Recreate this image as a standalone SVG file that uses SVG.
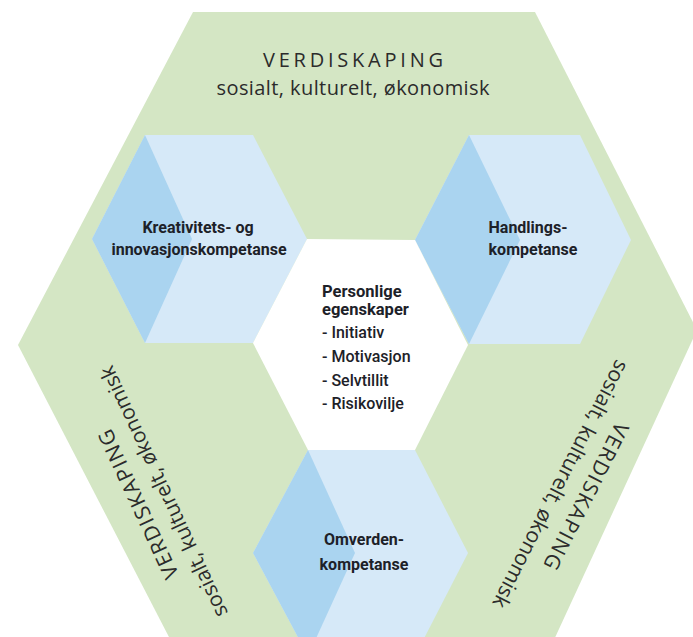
<svg xmlns="http://www.w3.org/2000/svg" width="693" height="637" viewBox="0 0 693 637">
  <style>
    .green { fill: #d4e6c4; }
    .light { fill: #d6e9f8; }
    .dark { fill: #aad4f0; }
    .white { fill: #ffffff; }
    .val { font-family: "Open Sans", "Noto Sans", sans-serif; font-size: 20px; fill: #2b2b2b; text-anchor: middle; }
    .cap { font-size: 21px; letter-spacing: 1.5px; }
    .sub { font-size: 21px; }
    .lbl { font-family: Roboto, "Liberation Sans", sans-serif; font-size: 16px; font-weight: 700; fill: #1d2128; text-anchor: middle; }
    .hd { font-family: Roboto, "Liberation Sans", sans-serif; font-size: 16.5px; font-weight: 700; fill: #1d2128; }
    .item { font-family: Roboto, "Liberation Sans", sans-serif; font-size: 16px; font-weight: 500; fill: #1d2128; }
  </style>
  <rect width="693" height="637" fill="#ffffff"/>

  <g id="verdiskaping">
    <polygon class="green" points="193,12 535,12 697,330 541,668 185,668 18,345"/>
    <g transform="translate(353,75)">
      <text class="val" x="0" y="-8" font-size="21" textLength="180">VERDISKAPING</text>
      <text class="val" x="0" y="20" textLength="273">sosialt, kulturelt, økonomisk</text>
    </g>
    <g transform="translate(152,497) rotate(-115)">
      <text class="val cap" x="0" y="-8">VERDISKAPING</text>
      <text class="val sub" x="0" y="20">sosialt, kulturelt, økonomisk</text>
    </g>
    <g transform="translate(572,490) rotate(117)">
      <text class="val cap" x="0" y="-8">VERDISKAPING</text>
      <text class="val sub" x="0" y="20">sosialt, kulturelt, økonomisk</text>
    </g>
  </g>

  <g id="connectors"/>

  <g id="kreativitet">
    <polygon class="light" points="145,135 253,135 307,239 253,343 145,343 92,239"/>
    <polygon class="dark" points="145,135 92,239 145,343 192,239"/>
    <text class="lbl" x="198" y="233">Kreativitets- og</text>
    <text class="lbl" x="199" y="255">innovasjonskompetanse</text>
  </g>

  <g id="handling">
    <polygon class="light" points="469,135 580,135 631,240 580,344 469,344 415,240"/>
    <polygon class="dark" points="469,135 415,240 469,344 520,240"/>
    <text class="lbl" x="528" y="233">Handlings-</text>
    <text class="lbl" x="533" y="255">kompetanse</text>
  </g>

  <g id="personlige">
    <polygon class="white" points="307,239 415,240 468,345 415,450 308,450 253,343"/>
    <text class="hd" x="322" y="297">Personlige</text>
    <text class="hd" x="322" y="315">egenskaper</text>
    <text class="item" x="322" y="338">- Initiativ</text>
    <text class="item" x="322" y="362">- Motivasjon</text>
    <text class="item" x="322" y="386">- Selvtillit</text>
    <text class="item" x="322" y="409">- Risikovilje</text>
  </g>

  <g id="omverden">
    <polygon class="light" points="308,450 415,450 468,553 415,656 308,656 253,553"/>
    <polygon class="dark" points="308,450 253,553 308,656 355,553"/>
    <text class="lbl" x="364" y="545">Omverden-</text>
    <text class="lbl" x="364" y="570">kompetanse</text>
  </g>
</svg>
